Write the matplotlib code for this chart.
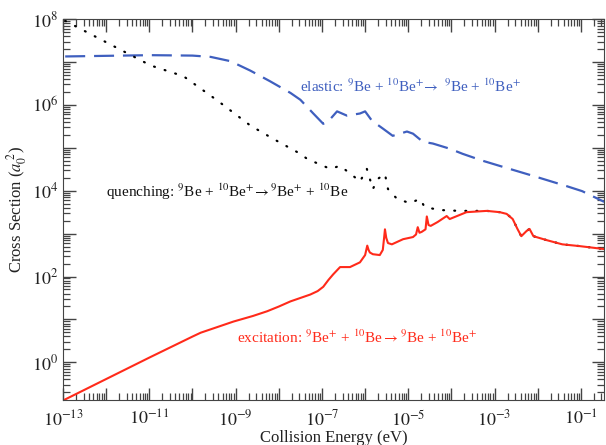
import numpy as np
import matplotlib
matplotlib.use("Agg")
import matplotlib.pyplot as plt
from matplotlib.ticker import LogLocator, FixedLocator, NullFormatter

plt.rcParams['font.family'] = ['Liberation Serif', 'DejaVu Serif']
plt.rcParams['mathtext.fontset'] = 'stix'

# log10 of collision energy (eV) and log10 of cross section (a0^2)
elastic_logE = [-12.95, -10.97, -10.0, -9.58, -9.12, -8.66, -8.20, -7.73, -7.50, -7.20, -6.97, -6.86,
                -6.65, -6.42, -6.12, -6.00, -5.84, -5.59, -5.36, -5.03, -4.89, -4.66,
                -4.43, -4.04, -3.74, -3.28, -2.82, -2.12, -1.73, -1.34, -0.97, -0.46]
elastic_logS = [7.13, 7.16, 7.15, 7.12, 7.02, 6.80, 6.55, 6.28, 6.12, 5.80, 5.56, 5.61,
                5.85, 5.75, 5.80, 5.85, 5.63, 5.45, 5.28, 5.38, 5.33, 5.14,
                5.10, 4.98, 4.86, 4.70, 4.56, 4.35, 4.23, 4.11, 3.99, 3.74]

quench_logE = [-12.95, -10.97, -10.21, -9.42, -8.66, -8.13, -7.50, -7.34, -6.81, -6.58,
               -6.28, -6.12, -5.96, -5.82, -5.70, -5.54, -5.47, -5.26, -4.96, -4.73,
               -4.62, -4.27, -3.81, -3.18, -2.88, -2.72, -2.58, -2.47, -2.38, -2.26,
               -2.19, -2.10, -1.80, -1.43, -1.04, -0.46]
quench_logS = [7.96, 6.92, 6.67, 6.10, 5.52, 5.21, 4.86, 4.74, 4.51, 4.58,
               4.35, 4.21, 4.51, 4.04, 4.28, 4.39, 4.04, 3.81, 3.71, 3.81,
               3.62, 3.55, 3.53, 3.53, 3.50, 3.46, 3.34, 3.11, 2.94, 3.06,
               3.11, 2.94, 2.85, 2.75, 2.71, 2.64]

excit_logE = [-12.98, -12.0, -11.0, -10.0, -9.81, -9.4, -9.05, -8.6, -8.27, -8.0, -7.73, -7.5,
              -7.27, -7.1, -6.97, -6.85, -6.74, -6.58, -6.35,
              -6.12, -6.00, -5.95, -5.92, -5.89, -5.82, -5.66, -5.59, -5.56, -5.54, -5.51, -5.47, -5.38, -5.12,
              -4.89, -4.82, -4.78, -4.74, -4.69, -4.60, -4.57, -4.53, -4.48, -4.32, -4.11, -4.04, -3.65,
              -3.18, -2.88, -2.72, -2.58, -2.47, -2.38, -2.26, -2.19, -2.10, -1.80,
              -1.43, -1.04, -0.46]
excit_logS = [-0.88, -0.39, 0.11, 0.60, 0.69, 0.83, 0.95, 1.08, 1.19, 1.30, 1.42, 1.50,
              1.58, 1.66, 1.76, 1.92, 2.05, 2.22, 2.22,
              2.33, 2.50, 2.72, 2.62, 2.56, 2.52, 2.50, 2.62, 2.90, 3.10, 2.90, 2.78, 2.75, 2.87,
              2.92, 2.98, 3.15, 3.02, 3.04, 3.10, 3.40, 3.20, 3.18, 3.27, 3.41, 3.34, 3.50,
              3.53, 3.50, 3.46, 3.34, 3.11, 2.94, 3.06, 3.11, 2.94, 2.85,
              2.75, 2.71, 2.64]

blue = '#3f5fbf'
red = '#ff2a1a'

fig = plt.figure(figsize=(6.06, 4.45), dpi=100)
ax = fig.add_axes([0.104, 0.101, 0.893, 0.856])

ax.plot(10 ** np.array(elastic_logE), 10 ** np.array(elastic_logS),
        color=blue, lw=1.6, dashes=(9, 4))
ax.plot(10 ** np.array(quench_logE), 10 ** np.array(quench_logS),
        color='black', lw=1.6, dashes=(0.4, 4.6), dash_capstyle='round')
ax.plot(10 ** np.array(excit_logE), 10 ** np.array(excit_logS),
        color=red, lw=1.5)

ax.set_xscale('log')
ax.set_yscale('log')
ax.set_xlim(1e-13, 10 ** -0.46)
ax.set_ylim(10 ** -0.88, 1e8)

ax.xaxis.set_major_locator(FixedLocator([10.0 ** k for k in range(-13, 1)]))
ax.yaxis.set_major_locator(FixedLocator([10.0 ** k for k in range(-1, 9)]))
ax.xaxis.set_minor_locator(LogLocator(base=10, subs=np.arange(2, 10), numticks=50))
ax.yaxis.set_minor_locator(LogLocator(base=10, subs=np.arange(2, 10), numticks=50))
ax.xaxis.set_minor_formatter(NullFormatter())
ax.yaxis.set_minor_formatter(NullFormatter())
ax.set_xticklabels([r'$10^{%d}$' % k if (k % 2 == 1) else '' for k in range(-13, 1)])
ax.set_yticklabels([r'$10^{%d}$' % k if (k % 2 == 0) else '' for k in range(-1, 9)])

ax.tick_params(which='both', direction='in', top=True, right=True,
               color='#444444', labelcolor='#222222', labelsize=13)
ax.tick_params(which='major', length=9, width=1)
ax.tick_params(which='minor', length=5, width=0.9)
ax.tick_params(axis='x', pad=7)
for s in ax.spines.values():
    s.set_color('#444444')

ax.set_xlabel('Collision Energy (eV)', fontsize=12, labelpad=0, color='#222222')
ax.set_ylabel(r'Cross Section ($a_0^{\ 2}$)', fontsize=12, labelpad=2, color='#222222')

ax.text(10 ** -7.5, 10 ** 6.30,
        r'elastic: $^{9}$Be + $^{10}$Be$^{+}\!\rightarrow$ $^{9}$Be + $^{10}$Be$^{+}$',
        color=blue, fontsize=11, ha='left', va='baseline')
ax.text(10 ** -12.0, 10 ** 3.86,
        r'quenching: $^{9}$Be + $^{10}$Be$^{+}\!\rightarrow$$^{9}$Be$^{+}$ + $^{10}$Be',
        color='#111111', fontsize=11, ha='left', va='baseline')
ax.text(10 ** -8.96, 10 ** 0.44,
        r'excitation: $^{9}$Be$^{+}$ + $^{10}$Be$\rightarrow$$^{9}$Be + $^{10}$Be$^{+}$',
        color=red, fontsize=11, ha='left', va='baseline')

fig.savefig('out.png', dpi=100)
